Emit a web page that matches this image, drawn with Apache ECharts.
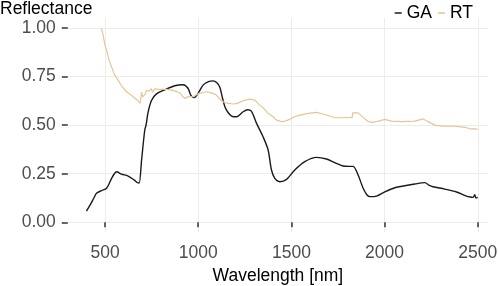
<!DOCTYPE html>
<html>
<head>
<meta charset="utf-8">
<script src="https://cdn.jsdelivr.net/npm/echarts@6/dist/echarts.min.js"></script>
<style>
  html, body { margin: 0; padding: 0; background: #fff; }
  #chart { width: 498px; height: 286px; }
</style>
</head>
<body>
<div id="chart"></div>
<script>
// reflectance spectra, GA vs RT

const xTicks = [500, 1000, 1500, 2000, 2500];
const yTicks = [0, 0.25, 0.5, 0.75, 1];

const gaWave = [400, 420, 440, 454, 481, 508, 535, 550, 562, 588, 624, 656, 674, 683, 696, 713, 720, 731, 749, 776,
    821, 874, 919, 945, 960, 978, 1000, 1026, 1055, 1080, 1100, 1116, 1130, 1143, 1160, 1179, 1205, 1241, 1265, 1285,
    1313, 1348, 1375, 1393, 1411, 1438, 1474, 1518, 1572, 1635, 1688, 1733, 1777, 1810, 1831, 1858, 1885, 1905, 1921, 1957,
    2001, 2055, 2108, 2162, 2216, 2240, 2260, 2323, 2386, 2439, 2466, 2475, 2484, 2490, 2500];
const gaRefl = [0.058, 0.09, 0.125, 0.149, 0.163, 0.175, 0.226, 0.25, 0.26, 0.248, 0.238, 0.218, 0.204, 0.202, 0.32, 0.475, 0.50, 0.567, 0.627, 0.661,
    0.682, 0.703, 0.708, 0.69, 0.655, 0.642, 0.665, 0.706, 0.724, 0.728, 0.718, 0.695, 0.64, 0.595, 0.565, 0.547, 0.543, 0.569, 0.579, 0.572,
    0.509, 0.44, 0.372, 0.269, 0.226, 0.209, 0.221, 0.269, 0.312, 0.334, 0.326, 0.307, 0.29, 0.288, 0.288, 0.243, 0.175, 0.142, 0.132, 0.135,
    0.157, 0.178, 0.188, 0.197, 0.204, 0.19, 0.183, 0.171, 0.156, 0.135, 0.129, 0.128, 0.142, 0.125, 0.128];

const rtWave = [481, 490, 500, 508, 520, 535, 550, 570, 590, 615, 640, 660, 675, 683, 688, 692, 696, 702, 708, 715,
    723, 735, 749, 754, 758, 763, 767, 790, 830, 860, 901, 915, 928, 950, 973, 1000, 1045, 1075, 1098, 1115,
    1134, 1160, 1187, 1210, 1241, 1277, 1304, 1330, 1348, 1375, 1402, 1420, 1447, 1465, 1491, 1518, 1540, 1572, 1600, 1635,
    1660, 1688, 1733, 1777, 1826, 1829, 1858, 1885, 1910, 1930, 1957, 2001, 2037, 2091, 2162, 2207, 2234, 2269, 2314, 2377,
    2430, 2466, 2480, 2490, 2500];
const rtRefl = [0.998, 0.96, 0.91, 0.886, 0.84, 0.80, 0.76, 0.732, 0.70, 0.672, 0.655, 0.638, 0.628, 0.62, 0.612, 0.64, 0.67, 0.645, 0.636, 0.66,
    0.679, 0.675, 0.687, 0.67, 0.661, 0.678, 0.687, 0.684, 0.684, 0.68, 0.667, 0.65, 0.638, 0.648, 0.646, 0.662, 0.672, 0.665, 0.655, 0.635,
    0.62, 0.612, 0.609, 0.612, 0.626, 0.634, 0.629, 0.603, 0.59, 0.561, 0.543, 0.526, 0.518, 0.521, 0.53, 0.543, 0.55, 0.557, 0.562, 0.566,
    0.56, 0.552, 0.538, 0.538, 0.54, 0.563, 0.563, 0.54, 0.52, 0.514, 0.518, 0.53, 0.521, 0.518, 0.521, 0.532, 0.518, 0.5, 0.495, 0.495,
    0.489, 0.48, 0.482, 0.476, 0.478];

const pairs = (xs, ys) => xs.map((x, i) => [x, ys[i]]);

const font = '"Liberation Sans", Arial, sans-serif';
const fs = 17.5;

const option = {
    backgroundColor: '#ffffff',
    animation: false,
    title: {
        text: 'Reflectance',
        left: 0,
        top: 0,
        padding: 0,
        textStyle: { color: '#000', fontSize: fs, fontWeight: 'normal', fontFamily: font }
    },
    legend: {
        right: 25,
        top: 4,
        padding: 0,
        itemWidth: 7,
        itemHeight: 1.5,
        itemGap: 6,
        icon: 'rect',
        data: ['GA', 'RT'],
        textStyle: { color: '#000', fontSize: fs, fontFamily: font }
    },
    grid: { left: 67.8, right: 10, top: 18.3, bottom: 54, containLabel: false, outerBoundsMode: 'none' },
    xAxis: {
        type: 'value',
        min: 300,
        max: 2555,
        name: 'Wavelength [nm]',
        nameLocation: 'middle',
        nameGap: 31,
        nameTextStyle: { color: '#000', fontSize: fs, fontFamily: font },
        axisLine: { show: false },
        axisTick: { show: true, length: 5, customValues: xTicks, lineStyle: { color: '#333', width: 1.5 } },
        axisLabel: {
            customValues: xTicks, color: '#4d4d4d', fontSize: fs, fontFamily: font, margin: 12,
            formatter: v => String(v)
        },
        splitLine: { show: true, lineStyle: { color: '#ececec', width: 1 } }
    },
    yAxis: {
        type: 'value',
        min: -0.05,
        max: 1.05,
        axisLine: { show: false },
        axisTick: { show: true, length: 6, customValues: yTicks, lineStyle: { color: '#333', width: 1.5 } },
        axisLabel: {
            customValues: yTicks, color: '#4d4d4d', fontSize: fs, fontFamily: font, margin: 12,
            formatter: v => v.toFixed(2)
        },
        splitLine: { show: true, lineStyle: { color: '#ececec', width: 1 } }
    },
    series: [
        {
            name: 'GA',
            type: 'line',
            data: pairs(gaWave, gaRefl),
            symbol: 'none',
            smooth: 0.3,
            color: '#1a1a1a',
            lineStyle: { width: 1.4, color: '#1a1a1a' }
        },
        {
            name: 'RT',
            type: 'line',
            data: pairs(rtWave, rtRefl),
            symbol: 'none',
            color: '#e6c596',
            lineStyle: { width: 1.2, color: '#e6c596' }
        }
    ]
};

const chart = echarts.init(document.getElementById('chart'));
chart.setOption(option);
</script>
</body>
</html>
